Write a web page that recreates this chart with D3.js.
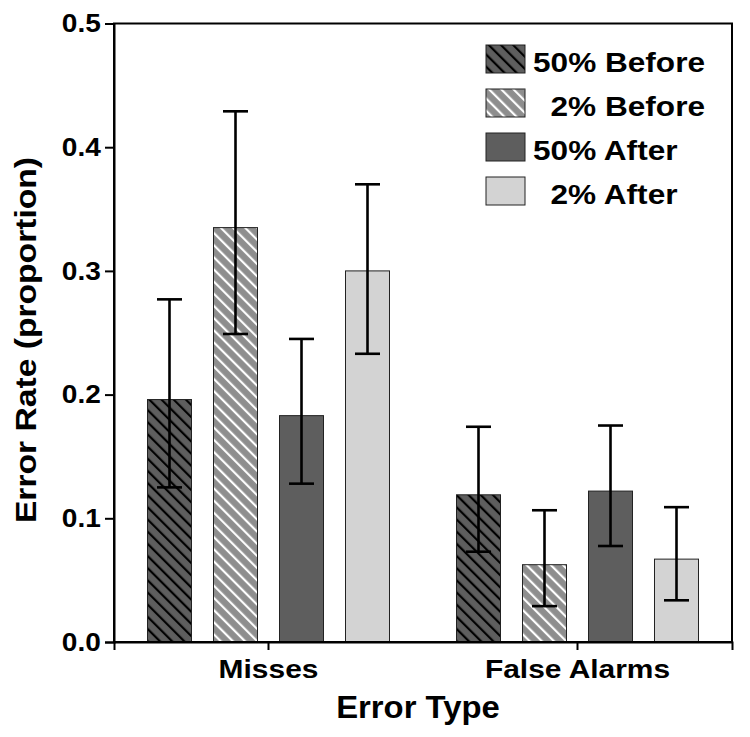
<!DOCTYPE html>
<html>
<head>
<meta charset="utf-8">
<script src="https://cdn.jsdelivr.net/npm/d3@7"></script>
<style>
  body { margin: 0; background: #fff; }
  text { font-family: "Liberation Sans", Arial, sans-serif; font-weight: bold; fill: #000; }
</style>
</head>
<body>
<svg id="chart"></svg>
<script>
// error type groups and conditions
var categories = ["Misses", "False Alarms"];
var series = ["50% Before", "2% Before", "50% After", "2% After"];
var legendLabels = ["50% Before", "  2% Before", "50% After", "  2% After"];

// mean error rate, one array per group (same order as series)
var missesMean = [0.196, 0.335, 0.183, 0.300];
var falseAlarmsMean = [0.119, 0.0625, 0.122, 0.067];
// error bar ends
var missesUpper = [0.277, 0.429, 0.245, 0.370];
var missesLower = [0.125, 0.249, 0.128, 0.233];
var falseAlarmsUpper = [0.174, 0.1065, 0.175, 0.109];
var falseAlarmsLower = [0.073, 0.029, 0.0776, 0.0337];

var yTicks = [0, 0.1, 0.2, 0.3, 0.4, 0.5];

var fills = ["#5e5e5e", "#8e8e8e", "#5e5e5e", "#d3d3d3"];
var hatch = ["#000", "#fff", null, null];

var svg = d3.select("#chart").attr("width", 750).attr("height", 737),
    margin = {top: 23.5, right: 18, bottom: 95, left: 114},
    width = 750 - margin.left - margin.right,
    height = 737 - margin.top - margin.bottom,
    g = svg.append("g").attr("transform", "translate(" + margin.left + "," + margin.top + ")");

var rows = categories.map(function (c, i) {
    var mean = i === 0 ? missesMean : falseAlarmsMean,
        up = i === 0 ? missesUpper : falseAlarmsUpper,
        lo = i === 0 ? missesLower : falseAlarmsLower;
    return series.map(function (s, j) {
        return {cat: c, key: s, idx: j, value: mean[j], hi: up[j], lo: lo[j]};
    });
});

var x0 = d3.scaleBand().domain(categories).range([0, width]).padding(0);
var x1 = d3.scaleBand().domain(series).range([0, 242]).paddingInner(1 / 3).paddingOuter(0);
var y = d3.scaleLinear().domain([0, 0.5]).range([height, 0]);

// hatch patterns
var defs = svg.append("defs");
series.forEach(function (s, j) {
    if (!hatch[j]) return;
    var p = defs.append("pattern")
        .attr("id", "hatch" + j)
        .attr("patternUnits", "userSpaceOnUse")
        .attr("width", 8.6)
        .attr("height", 8.6)
        .attr("patternTransform", "rotate(-45)");
    p.append("rect").attr("width", 8.6).attr("height", 8.6).attr("fill", fills[j]);
    p.append("line").attr("x1", 2).attr("x2", 2).attr("y1", 0).attr("y2", 8.6)
        .attr("stroke", hatch[j]).attr("stroke-width", 2.2);
});

function fillFor(j) {
    return hatch[j] ? "url(#hatch" + j + ")" : fills[j];
}

// stretch text a bit wider, like the original typeface
function stretch(sel, k) {
    sel.attr("transform", function () {
        var t = d3.select(this).attr("transform") || "";
        return t + " scale(" + k + ",1)";
    });
}

// bars
var groups = g.append("g").selectAll("g")
    .data(rows)
    .enter().append("g")
    .attr("transform", function (d, i) {
        return "translate(" + (x0(categories[i]) + x0.bandwidth() / 2 - 121) + ",0)";
    });

groups.selectAll("rect")
    .data(function (d) { return d; })
    .enter().append("rect")
    .attr("x", function (d) { return x1(d.key); })
    .attr("y", function (d) { return y(d.value); })
    .attr("width", x1.bandwidth())
    .attr("height", function (d) { return height - y(d.value); })
    .attr("fill", function (d) { return fillFor(d.idx); })
    .attr("stroke", "#222")
    .attr("stroke-width", 1);

// error bars
var eb = groups.selectAll("g.err")
    .data(function (d) { return d; })
    .enter().append("g")
    .attr("class", "err")
    .attr("stroke", "#000")
    .attr("stroke-width", 2.6);

eb.append("line")
    .attr("x1", function (d) { return x1(d.key) + x1.bandwidth() / 2; })
    .attr("x2", function (d) { return x1(d.key) + x1.bandwidth() / 2; })
    .attr("y1", function (d) { return y(d.hi); })
    .attr("y2", function (d) { return y(d.lo); });

eb.selectAll("line.cap")
    .data(function (d) { return [[d, d.hi], [d, d.lo]]; })
    .enter().append("line")
    .attr("class", "cap")
    .attr("x1", function (d) { return x1(d[0].key) + x1.bandwidth() / 2 - 12.5; })
    .attr("x2", function (d) { return x1(d[0].key) + x1.bandwidth() / 2 + 12.5; })
    .attr("y1", function (d) { return y(d[1]); })
    .attr("y2", function (d) { return y(d[1]); });

// frame
g.append("rect")
    .attr("width", width)
    .attr("height", height)
    .attr("fill", "none")
    .attr("stroke", "#000")
    .attr("stroke-width", 2);

// axes
var yAxis = g.append("g")
    .call(d3.axisLeft(y).tickValues(yTicks).tickFormat(d3.format(".1f")).tickSize(9).tickPadding(3));
yAxis.selectAll("path, line").attr("stroke", "#000").attr("stroke-width", 2);
yAxis.selectAll("text")
    .attr("font-size", "25.5px")
    .attr("font-family", "Liberation Sans, Arial, sans-serif")
    .attr("font-weight", "bold")
    .attr("fill", "#000")
    .call(stretch, 1.1);

var xAxis = g.append("g")
    .attr("transform", "translate(0," + height + ")")
    .call(d3.axisBottom(x0).tickSize(8).tickPadding(9));
xAxis.selectAll("path, line").attr("stroke", "#000").attr("stroke-width", 2);
xAxis.selectAll("text")
    .attr("font-size", "26.5px")
    .attr("font-family", "Liberation Sans, Arial, sans-serif")
    .attr("font-weight", "bold")
    .attr("fill", "#000")
    .call(stretch, 1.13);

// axis titles
svg.append("text")
    .attr("transform", "translate(418,718) scale(1.06,1)")
    .attr("text-anchor", "middle")
    .attr("font-size", "31px")
    .text("Error Type");

svg.append("text")
    .attr("transform", "translate(36,340) rotate(-90) scale(1.16,1)")
    .attr("text-anchor", "middle")
    .attr("font-size", "29px")
    .text("Error Rate (proportion)");

// legend
var legend = svg.append("g")
    .selectAll("g")
    .data(series)
    .enter().append("g")
    .attr("transform", function (d, i) { return "translate(486," + (45 + i * 44) + ")"; });

legend.append("rect")
    .attr("width", 39)
    .attr("height", 28)
    .attr("fill", function (d, i) { return fillFor(i); })
    .attr("stroke", "#222")
    .attr("stroke-width", 1);

legend.append("text")
    .attr("transform", "translate(47,27) scale(1.17,1)")
    .attr("font-size", "27px")
    .style("white-space", "pre")
    .text(function (d, i) { return legendLabels[i]; });
</script>
</body>
</html>
